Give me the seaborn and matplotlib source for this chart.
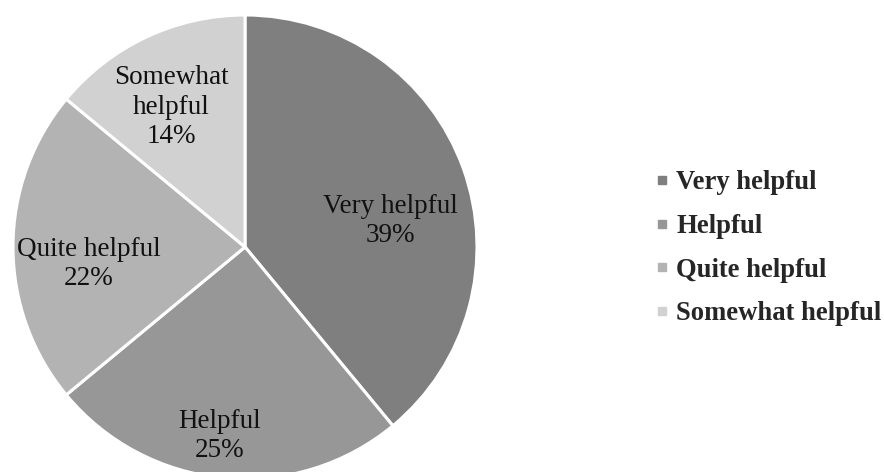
import matplotlib
matplotlib.use("Agg")
import matplotlib.pyplot as plt
from matplotlib.lines import Line2D
import seaborn as sns

categories = ["Very helpful", "Helpful", "Quite helpful", "Somewhat helpful"]
values = [39, 25, 22, 14]
colors = ["#7f7f7f", "#979797", "#b3b3b3", "#d1d1d1"]
# label block centres (in pie radius units)
label_pos = [(0.625, 0.112), (-0.108, -0.815), (-0.672, -0.073), (-0.319, 0.603)]
label_text = ["Very helpful\n39%", "Helpful\n25%", "Quite helpful\n22%", "Somewhat\nhelpful\n14%"]

sns.set_theme(style="white")
plt.rcParams["font.family"] = ["Liberation Serif", "DejaVu Serif"]

fig = plt.figure(figsize=(8.84, 4.72), dpi=100)
W, H = 884, 472
cx, cy, R = 245, 247, 232
ax = fig.add_axes([(cx - R) / W, (H - cy - R) / H, 2 * R / W, 2 * R / H])
wedges, _ = ax.pie(values, colors=colors, startangle=90, counterclock=False,
                   radius=1.0, wedgeprops=dict(edgecolor="white", linewidth=2.2))
ax.set_xlim(-1, 1)
ax.set_ylim(-1, 1)
ax.set_aspect("equal")
ax.axis("off")

for (x, y), t in zip(label_pos, label_text):
    ax.text(x, y, t, ha="center", va="center", fontsize=19.5, color="#111111",
            linespacing=1.22)

handles = [Line2D([0], [0], marker="s", linestyle="none", markersize=6,
                  markerfacecolor=c, markeredgecolor=c) for c in colors]
fig.legend(handles, categories, loc="center left", bbox_to_anchor=(0.7217, 0.474),
           frameon=False, prop=dict(family=["Liberation Serif"], weight="bold", size=19.2),
           labelspacing=0.7, handlelength=0.8, handletextpad=0.14, borderpad=0,
           borderaxespad=0.5)

fig.savefig("out.png", dpi=100, facecolor="white")
